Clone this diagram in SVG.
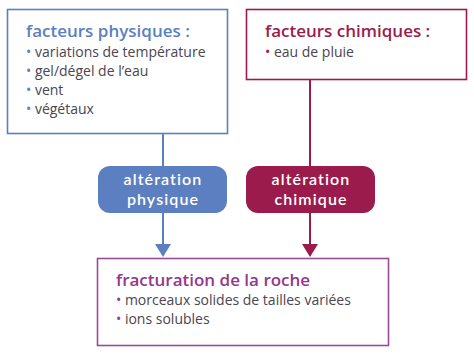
<svg xmlns="http://www.w3.org/2000/svg" width="474" height="357" viewBox="0 0 474 357">
<style>
.box{fill:#fff;stroke-width:1.6}
.t{font-family:"Open Sans",Lato,sans-serif;font-weight:600;font-size:17px}
.b{font-family:"Open Sans",Lato,sans-serif;font-size:14px;fill:#4a4550}
.p{font-family:Lato,"Open Sans",sans-serif;font-weight:600;font-size:16px;letter-spacing:1.1px;fill:#fff;text-anchor:middle}
.line{stroke-width:2;fill:none}
</style>
<rect width="474" height="357" fill="#fff"/>
<g id="connectors">
<line class="line" x1="163" y1="134" x2="163" y2="166" stroke="#5b7fc1"/>
<line class="line" x1="163" y1="213" x2="163" y2="245" stroke="#5b7fc1"/>
<path d="M155,244 L171,244 L163,257 Z" fill="#5b7fc1"/>
<line class="line" x1="310" y1="80" x2="310" y2="166" stroke="#9b1b4c"/>
<line class="line" x1="310" y1="213" x2="310" y2="245" stroke="#9b1b4c"/>
<path d="M302,244 L318,244 L310,257 Z" fill="#9b1b4c"/>
</g>
<g id="facteurs-physiques">
<rect class="box" x="7.5" y="9.5" width="220" height="124" stroke="#5b7fc1"/>
<text class="t" x="26" y="37" fill="#5b7fc1">facteurs physiques :</text>
<text class="b" x="26" y="57"><tspan fill="#5b7fc1">•</tspan> variations de température</text>
<text class="b" x="26" y="76"><tspan fill="#5b7fc1">•</tspan> gel/dégel de l’eau</text>
<text class="b" x="26" y="95"><tspan fill="#5b7fc1">•</tspan> vent</text>
<text class="b" x="26" y="114"><tspan fill="#5b7fc1">•</tspan> végétaux</text>
</g>
<g id="facteurs-chimiques">
<rect class="box" x="246.5" y="9.5" width="220" height="70" stroke="#9b1b4c"/>
<text class="t" x="265" y="37" fill="#9b1b4c">facteurs chimiques :</text>
<text class="b" x="265" y="57"><tspan fill="#9b1b4c">•</tspan> eau de pluie</text>
</g>
<g id="alteration-physique">
<rect x="98" y="166" width="129" height="47" rx="12" fill="#5b7fc1"/>
<text class="p" x="163" y="185">altération</text>
<text class="p" x="163" y="204.5">physique</text>
</g>
<g id="alteration-chimique">
<rect x="246" y="166" width="129" height="47" rx="12" fill="#9b1b4c"/>
<text class="p" x="311" y="185">altération</text>
<text class="p" x="311" y="204.5">chimique</text>
</g>
<g id="fracturation">
<rect class="box" x="97.5" y="258.5" width="291" height="87" stroke="#9c4a96"/>
<text class="t" x="116" y="286" fill="#93388c">fracturation de la roche</text>
<text class="b" x="116" y="305"><tspan fill="#93388c">•</tspan> morceaux solides de tailles variées</text>
<text class="b" x="116" y="324"><tspan fill="#93388c">•</tspan> ions solubles</text>
</g>
</svg>
